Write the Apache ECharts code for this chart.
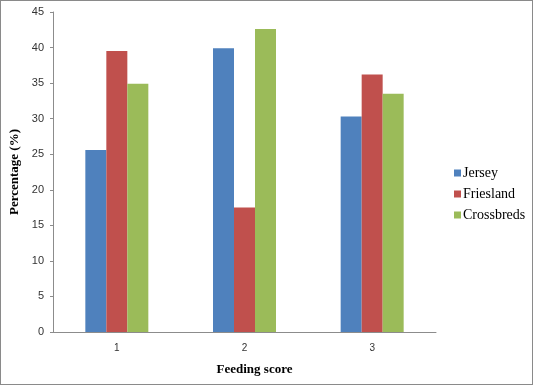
<!DOCTYPE html>
<html>
<head>
<meta charset="utf-8">
<script src="https://cdn.jsdelivr.net/npm/echarts@6/dist/echarts.min.js"></script>
<style>
html,body{margin:0;padding:0;background:#fff;}
#c{width:533px;height:385px;box-sizing:border-box;}
#frame{position:absolute;left:0;top:0;width:533px;height:385px;box-sizing:border-box;border:1.5px solid #8a8a8a;pointer-events:none;}
</style>
</head>
<body>
<div id="c"></div>
<div id="frame"></div>
<script>
var categories = ['1', '2', '3'];
var jersey = [25.6, 39.9, 30.3];
var friesland = [39.5, 17.5, 36.2];
var crossbreds = [34.9, 42.6, 33.5];
var seriesNames = ['Jersey', 'Friesland', 'Crossbreds'];
var yTicks = {min: 0, max: 45, interval: 5};

var chart = echarts.init(document.getElementById('c'));
var bar = function(name, data, color) {
  return {
    name: name, type: 'bar', data: data,
    barWidth: 21, barGap: '0%',
    itemStyle: {color: color},
    emphasis: {disabled: true}
  };
};
chart.setOption({
  animation: false,
  backgroundColor: '#fff',
  grid: {left: 53, right: 97, top: 12, bottom: 53, containLabel: false, outerBoundsMode: 'none'},
  legend: {
    orient: 'vertical', left: 449, top: 161,
    itemWidth: 7, itemHeight: 7, itemGap: 7,
    icon: 'rect',
    textStyle: {fontFamily: 'Liberation Serif', fontSize: 14, color: '#000', padding: [0, 0, 0, -3]},
    data: seriesNames
  },
  xAxis: {
    type: 'category', data: categories,
    name: 'Feeding score', nameLocation: 'middle', nameGap: 31,
    nameTextStyle: {fontFamily: 'Liberation Serif', fontWeight: 'bold', fontSize: 13, color: '#000', padding: [0, 0, 0, 20]},
    axisLine: {lineStyle: {color: '#8c8c8c', width: 1}},
    axisTick: {show: false},
    axisLabel: {fontFamily: 'Liberation Sans', fontSize: 10, color: '#333', margin: 11}
  },
  yAxis: {
    type: 'value', min: yTicks.min, max: yTicks.max, interval: yTicks.interval,
    name: 'Percentage (%)', nameLocation: 'middle', nameGap: 32,
    nameTextStyle: {fontFamily: 'Liberation Serif', fontWeight: 'bold', fontSize: 13, color: '#000'},
    axisLine: {show: true, lineStyle: {color: '#8c8c8c', width: 1}},
    axisTick: {show: true, length: 3, lineStyle: {color: '#8c8c8c'}},
    splitLine: {show: false},
    axisLabel: {fontFamily: 'Liberation Sans', fontSize: 11, color: '#333', margin: 9}
  },
  series: [
    bar(seriesNames[0], jersey, '#4F81BD'),
    bar(seriesNames[1], friesland, '#C0504D'),
    bar(seriesNames[2], crossbreds, '#9BBB59')
  ]
});
</script>
</body>
</html>
